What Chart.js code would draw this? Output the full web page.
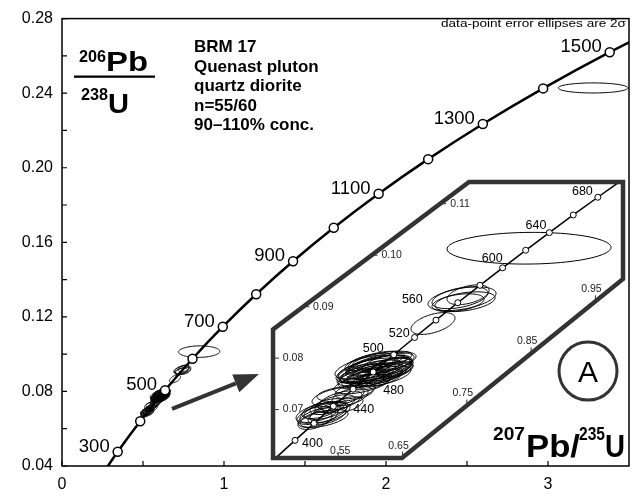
<!DOCTYPE html>
<html>
<head>
<meta charset="utf-8">
<script src="https://cdn.jsdelivr.net/npm/chart.js@4"></script>
<style>
  html, body { margin: 0; padding: 0; background: #fff; }
  #wrap { width: 634px; height: 497px; position: relative; }
</style>
</head>
<body>
<div id="wrap"><canvas id="c"></canvas></div>
<script>
// Concordia nodes, 100 Ma apart (age, 207Pb/235U, 206Pb/238U)
const concAge = [200, 300, 400, 500, 600, 700, 800, 900, 1000, 1100, 1200, 1300, 1400, 1500, 1600];
const concX = [0.2177, 0.3437, 0.4828, 0.6363, 0.8056, 0.9925, 1.1987, 1.4263, 1.6774, 1.9545, 2.2603, 2.5977, 2.9701, 3.3810, 3.8344];
const concY = [0.03151, 0.04764, 0.06402, 0.08065, 0.09754, 0.11470, 0.13213, 0.14983, 0.16780, 0.18606, 0.20460, 0.22344, 0.24256, 0.26199, 0.28172];
const mainAgeLabels = [300, 500, 700, 900, 1100, 1300, 1500];

// Enlarged concordia, 20 Ma apart
const insetAge = [380, 400, 420, 440, 460, 480, 500, 520, 540, 560, 580, 600, 620, 640, 660, 680, 700];
const insetX = [0.4539, 0.4828, 0.5123, 0.5424, 0.5731, 0.6044, 0.6363, 0.6688, 0.7020, 0.7359, 0.7704, 0.8056, 0.8415, 0.8783, 0.9155, 0.9537, 0.9925];
const insetY = [0.06072, 0.06402, 0.06732, 0.07064, 0.07397, 0.07730, 0.08065, 0.08401, 0.08738, 0.09076, 0.09414, 0.09754, 0.10095, 0.10438, 0.10781, 0.11125, 0.11470];
const insetAgeLabels = [400, 440, 480, 500, 520, 560, 600, 640, 680];

// Zircon analyses: ratios, 2 sigma half-widths and error correlation
const ellX  = [0.6026, 0.6119, 0.5963, 0.6197, 0.6072, 0.5917, 0.6274, 0.6150, 0.5994, 0.5839, 0.6228, 0.6337, 0.6088, 0.5932, 0.6166, 0.6057, 0.6383, 0.5808, 0.6259, 0.6010, 0.5870, 0.5606, 0.5528, 0.5683, 0.5450, 0.5621, 0.5761, 0.5248, 0.5186, 0.5310, 0.5139, 0.5372, 0.5217, 0.5279, 0.5092, 0.5341, 0.6974, 0.7425, 0.7519, 0.7472, 0.7363, 0.8467, 3.2780, 0.6103, 0.5979, 0.6212, 0.6041, 0.6305, 0.5886, 0.6134, 0.5497, 0.5186, 0.5326, 0.6181, 0.7394];
const ellSX = [0.0467, 0.0498, 0.0435, 0.0467, 0.0420, 0.0467, 0.0404, 0.0513, 0.0389, 0.0342, 0.0404, 0.0311, 0.0435, 0.0373, 0.0544, 0.0591, 0.0280, 0.0311, 0.0373, 0.0311, 0.0435, 0.0435, 0.0342, 0.0280, 0.0311, 0.0264, 0.0311, 0.0389, 0.0311, 0.0342, 0.0264, 0.0311, 0.0280, 0.0373, 0.0187, 0.0280, 0.0342, 0.0529, 0.0327, 0.0467, 0.0404, 0.1275, 0.2150, 0.0451, 0.0482, 0.0420, 0.0513, 0.0342, 0.0404, 0.0358, 0.0404, 0.0342, 0.0295, 0.0467, 0.0435];
const ellY  = [0.07750, 0.07827, 0.07712, 0.07788, 0.07654, 0.07827, 0.07904, 0.07712, 0.07904, 0.07712, 0.07654, 0.07846, 0.07942, 0.07596, 0.07885, 0.07788, 0.07788, 0.07596, 0.07750, 0.07558, 0.07500, 0.07308, 0.07173, 0.07250, 0.07115, 0.07096, 0.07365, 0.06923, 0.06846, 0.06981, 0.06788, 0.06942, 0.06981, 0.06827, 0.06885, 0.07058, 0.08673, 0.09154, 0.09231, 0.09096, 0.09077, 0.10135, 0.24280, 0.07865, 0.07788, 0.07731, 0.07692, 0.07808, 0.07673, 0.07615, 0.07250, 0.06942, 0.06885, 0.07962, 0.09173];
const ellSY = [0.00212, 0.00231, 0.00192, 0.00212, 0.00192, 0.00231, 0.00192, 0.00212, 0.00192, 0.00173, 0.00192, 0.00173, 0.00192, 0.00173, 0.00231, 0.00269, 0.00154, 0.00192, 0.00250, 0.00173, 0.00192, 0.00154, 0.00192, 0.00173, 0.00173, 0.00154, 0.00154, 0.00212, 0.00192, 0.00173, 0.00173, 0.00192, 0.00154, 0.00173, 0.00154, 0.00154, 0.00212, 0.00231, 0.00192, 0.00192, 0.00173, 0.00308, 0.00270, 0.00192, 0.00212, 0.00173, 0.00192, 0.00212, 0.00212, 0.00173, 0.00192, 0.00192, 0.00173, 0.00173, 0.00212];
const ellRho = [0.6, 0.6, 0.6, 0.6, 0.55, 0.6, 0.6, 0.6, 0.55, 0.5, 0.6, 0.5, 0.6, 0.55, 0.65, 0.65, 0.5, 0.5, 0.6, 0.5, 0.55, 0.4, 0.55, 0.5, 0.55, 0.5, 0.45, 0.6, 0.55, 0.55, 0.5, 0.55, 0.5, 0.55, 0.4, 0.5, 0.5, 0.45, 0.45, 0.4, 0.4, 0.05, 0.0, 0.6, 0.6, 0.55, 0.6, 0.55, 0.6, 0.55, 0.5, 0.55, 0.5, 0.6, 0.45];

// Axis ticks
const xMajor = [0, 1, 2, 3];
const xMinor = [0.5, 1.5, 2.5];
const yMajor = [0.04, 0.08, 0.12, 0.16, 0.20, 0.24, 0.28];
const yMinor = [0.06, 0.10, 0.14, 0.18, 0.22, 0.26];
const insetXTicks = [0.55, 0.65, 0.75, 0.85, 0.95];
const insetYTicks = [0.07, 0.08, 0.09, 0.10, 0.11];

// Outline of the enlarged window, in its own ratios
const frameX = [0.4486, 0.4486, 0.7534, 0.9929, 0.9929, 0.6492];
const frameY = [0.06058, 0.08558, 0.11423, 0.11423, 0.09538, 0.06058];

const FONT = '"Liberation Sans", Arial, Helvetica, sans-serif';
const GREY = '#333';

// label placement beside the enlarged concordia nodes: [dx, dy, align]
const insetLabelPos = {
  400: [7, 3, 'left'], 440: [20, 3, 'left'], 480: [10, 19, 'left'], 500: [-10, -6, 'right'],
  520: [-5, -4, 'right'], 560: [-35, -3, 'right'], 600: [0, -9, 'right'], 640: [-3, -7, 'right'], 680: [-5, -6, 'right']
};

function txt(ctx, s, x, y, size, opts = {}) {
  ctx.save();
  ctx.font = (opts.bold ? 'bold ' : '') + size + 'px ' + FONT;
  ctx.fillStyle = opts.color || '#000';
  ctx.textBaseline = opts.base || 'alphabetic';
  ctx.textAlign = opts.align || 'left';
  ctx.translate(x, y);
  if (opts.w) ctx.scale(opts.w / ctx.measureText(s).width, 1);
  ctx.fillText(s, 0, 0);
  ctx.restore();
}

function framePoints(chart) {
  const xs = chart.scales.ix, ys = chart.scales.iy;
  return frameX.map((v, i) => [xs.getPixelForValue(v), ys.getPixelForValue(frameY[i])]);
}

function framePath(ctx, pts) {
  ctx.beginPath();
  pts.forEach((p, i) => i ? ctx.lineTo(p[0], p[1]) : ctx.moveTo(p[0], p[1]));
  ctx.closePath();
}

function drawEllipses(ctx, xs, ys) {
  ctx.lineWidth = 1;
  ctx.strokeStyle = '#000';
  for (let k = 0; k < ellX.length; k++) {
    const r = ellRho[k], q = Math.sqrt(1 - r * r);
    ctx.beginPath();
    for (let i = 0; i <= 96; i++) {
      const t = i / 96 * Math.PI * 2, c = Math.cos(t), s = Math.sin(t);
      const px = xs.getPixelForValue(ellX[k] + ellSX[k] * c);
      const py = ys.getPixelForValue(ellY[k] + ellSY[k] * (r * c + q * s));
      i ? ctx.lineTo(px, py) : ctx.moveTo(px, py);
    }
    ctx.closePath();
    ctx.stroke();
  }
}

const concordiaPlot = {
  id: 'concordiaPlot',
  beforeDatasetsDraw(chart) {
    const ctx = chart.ctx, a = chart.chartArea;
    ctx.save();
    ctx.beginPath();
    ctx.rect(a.left, a.top, a.right - a.left, a.bottom - a.top);
    ctx.clip();
    drawEllipses(ctx, chart.scales.x, chart.scales.y);
    ctx.restore();

    ctx.save();
    framePath(ctx, framePoints(chart));
    ctx.fillStyle = '#fff';
    ctx.fill();
    ctx.clip();
    drawEllipses(ctx, chart.scales.ix, chart.scales.iy);
    ctx.restore();
  },
  beforeDatasetDraw(chart, args) {
    if (args.meta.xAxisID !== 'ix') return;
    chart.ctx.save();
    framePath(chart.ctx, framePoints(chart));
    chart.ctx.clip();
  },
  afterDatasetDraw(chart, args) {
    if (args.meta.xAxisID === 'ix') chart.ctx.restore();
  },
  afterDatasetsDraw(chart) {
    const ctx = chart.ctx, a = chart.chartArea;
    const x = chart.scales.x, y = chart.scales.y, ix = chart.scales.ix, iy = chart.scales.iy;
    const pts = framePoints(chart);

    // window outline
    ctx.save();
    framePath(ctx, pts);
    ctx.lineWidth = 4.5;
    ctx.lineJoin = 'miter';
    ctx.strokeStyle = GREY;
    ctx.stroke();
    ctx.restore();

    // window ticks, placed where each value meets the outline
    const edges = pts.map((p, i) => [p, pts[(i + 1) % pts.length]]);
    ctx.save();
    ctx.strokeStyle = GREY;
    ctx.lineWidth = 1;
    insetYTicks.forEach(v => {
      const py = iy.getPixelForValue(v);
      let xc = Infinity;
      edges.forEach(([p, q]) => {
        if (p[1] !== q[1] && (p[1] - py) * (q[1] - py) <= 0) {
          xc = Math.min(xc, p[0] + (py - p[1]) * (q[0] - p[0]) / (q[1] - p[1]));
        }
      });
      ctx.beginPath(); ctx.moveTo(xc, py); ctx.lineTo(xc + 6, py); ctx.stroke();
      txt(ctx, v.toFixed(2), xc + 20, py, 10.5, { align: 'center', base: 'middle', color: '#222' });
    });
    insetXTicks.forEach(v => {
      const px = ix.getPixelForValue(v);
      let yc = -Infinity, flat = false;
      edges.forEach(([p, q]) => {
        if (p[0] !== q[0] && (p[0] - px) * (q[0] - px) <= 0) {
          const yy = p[1] + (px - p[0]) * (q[1] - p[1]) / (q[0] - p[0]);
          if (yy > yc) { yc = yy; flat = p[1] === q[1]; }
        }
      });
      ctx.beginPath(); ctx.moveTo(px, yc); ctx.lineTo(px, yc - 6); ctx.stroke();
      if (flat) txt(ctx, v.toFixed(2), px + 2, yc - 7, 10.5, { align: 'center', base: 'middle', color: '#222' });
      else txt(ctx, v.toFixed(2), px - 4, yc - 12, 10.5, { align: 'center', base: 'middle', color: '#222' });
    });
    ctx.restore();

    // ages on the enlarged concordia
    insetAgeLabels.forEach(age => {
      const i = insetAge.indexOf(age), o = insetLabelPos[age];
      const px = ix.getPixelForValue(insetX[i]), py = iy.getPixelForValue(insetY[i]);
      txt(ctx, String(age), px + o[0], py + o[1], 12.5, { align: o[2], base: 'middle' });
    });

    // ages on the main concordia
    mainAgeLabels.forEach(age => {
      const i = concAge.indexOf(age);
      const px = x.getPixelForValue(concX[i]), py = y.getPixelForValue(concY[i]);
      txt(ctx, String(age), px - 8, py - 5, 18.5, { align: 'right', base: 'middle' });
    });

    // arrow pointing into the window
    const tx = x.getPixelForValue(0.679), ty = y.getPixelForValue(0.0707);
    const hx = x.getPixelForValue(1.216), hy = y.getPixelForValue(0.0893);
    const ang = Math.atan2(hy - ty, hx - tx), L = 25, W = 9.5;
    const bx = hx - L * Math.cos(ang), by = hy - L * Math.sin(ang);
    ctx.save();
    ctx.strokeStyle = GREY; ctx.fillStyle = GREY; ctx.lineWidth = 4;
    ctx.beginPath(); ctx.moveTo(tx, ty); ctx.lineTo(bx, by); ctx.stroke();
    ctx.beginPath();
    ctx.moveTo(hx, hy);
    ctx.lineTo(bx + W * Math.sin(ang), by - W * Math.cos(ang));
    ctx.lineTo(bx - W * Math.sin(ang), by + W * Math.cos(ang));
    ctx.closePath(); ctx.fill();
    ctx.restore();

    // panel letter
    const cx = x.getPixelForValue(3.247), cy = y.getPixelForValue(0.0909);
    ctx.save();
    ctx.strokeStyle = GREY; ctx.lineWidth = 3;
    ctx.beginPath(); ctx.arc(cx, cy, 29, 0, Math.PI * 2); ctx.stroke();
    ctx.restore();
    txt(ctx, 'A', cx, cy + 11, 30, { align: 'center' });

    // frame and inward ticks
    ctx.save();
    ctx.strokeStyle = '#000';
    ctx.lineWidth = 1.5;
    ctx.strokeRect(a.left, a.top, a.right - a.left, a.bottom - a.top);
    ctx.lineWidth = 1.2;
    ctx.beginPath();
    yMajor.concat(yMinor).forEach(v => {
      const py = y.getPixelForValue(v);
      ctx.moveTo(a.left, py); ctx.lineTo(a.left + 5, py);
    });
    xMajor.concat(xMinor).forEach(v => {
      const px = x.getPixelForValue(v);
      ctx.moveTo(px, a.bottom); ctx.lineTo(px, a.bottom - 5);
    });
    ctx.stroke();
    ctx.restore();

    // axis titles
    txt(ctx, '206', 79, 62, 16, { bold: true, w: 27 });
    txt(ctx, 'Pb', 106, 71, 27, { bold: true, w: 42 });
    ctx.save();
    ctx.fillStyle = '#000';
    ctx.fillRect(74, 75.5, 81, 2.3);
    ctx.restore();
    txt(ctx, '238', 81, 100, 16, { bold: true, w: 27 });
    txt(ctx, 'U', 108, 113, 27, { bold: true, w: 21 });

    txt(ctx, '207', 493, 440, 19, { bold: true, w: 32 });
    txt(ctx, 'Pb/', 526, 457, 32, { bold: true, w: 54 });
    txt(ctx, '235', 579, 440, 19, { bold: true, w: 26 });
    txt(ctx, 'U', 605, 457, 32, { bold: true, w: 20 });

    // sample description
    ['BRM 17', 'Quenast pluton', 'quartz diorite', 'n=55/60', '90\u2013110% conc.'].forEach((s, i) => {
      txt(ctx, s, 194, 52 + i * 19.5, 17, { bold: true });
    });
    txt(ctx, 'data-point error ellipses are 2\u03c3', 626, 27, 11, { align: 'right', w: 185 });
  }
};

new Chart(document.getElementById('c'), {
  type: 'scatter',
  data: {
    datasets: [
      {
        data: concAge.map((a, i) => ({ x: concX[i], y: concY[i] })),
        xAxisID: 'x', yAxisID: 'y',
        showLine: true,
        cubicInterpolationMode: 'monotone',
        borderColor: '#000',
        borderWidth: 2.5,
        pointRadius: c => (concAge[c.dataIndex] >= 300 && concAge[c.dataIndex] <= 1500) ? 4.5 : 0,
        pointBackgroundColor: '#fff',
        pointBorderColor: '#000',
        pointBorderWidth: 1.5
      },
      {
        data: insetAge.map((a, i) => ({ x: insetX[i], y: insetY[i] })),
        xAxisID: 'ix', yAxisID: 'iy',
        showLine: true,
        cubicInterpolationMode: 'monotone',
        borderColor: '#000',
        borderWidth: 1.5,
        pointRadius: c => (insetAge[c.dataIndex] >= 400 && insetAge[c.dataIndex] <= 680) ? 3 : 0,
        pointBackgroundColor: '#fff',
        pointBorderColor: '#000',
        pointBorderWidth: 1
      }
    ]
  },
  options: {
    responsive: true,
    maintainAspectRatio: false,
    animation: false,
    events: [],
    layout: { padding: { left: 0, top: 14, right: 5, bottom: 0 } },
    plugins: { legend: { display: false }, tooltip: { enabled: false } },
    scales: {
      x: {
        type: 'linear', position: 'bottom', min: 0, max: 3.5,
        grid: { display: false, drawTicks: false },
        border: { display: false },
        afterBuildTicks: s => { s.ticks = xMajor.map(v => ({ value: v })); },
        afterFit: s => { s.height = 31; },
        ticks: { padding: 9, color: '#000', font: { family: FONT, size: 16 }, callback: v => String(v) }
      },
      y: {
        type: 'linear', position: 'left', min: 0.04, max: 0.28,
        grid: { display: false, drawTicks: false },
        border: { display: false },
        afterBuildTicks: s => { s.ticks = yMajor.map(v => ({ value: v })); },
        afterFit: s => { s.width = 62; },
        ticks: { padding: 9, color: '#000', font: { family: FONT, size: 16 }, callback: v => v.toFixed(2) }
      },
      ix: {
        type: 'linear', position: 'top', display: false, min: 0.1204, max: 1.0022,
        ticks: { display: false }, afterFit: s => { s.height = 0; }
      },
      iy: {
        type: 'linear', position: 'right', display: false, min: 0.05904, max: 0.14596,
        ticks: { display: false }, afterFit: s => { s.width = 0; }
      }
    }
  },
  plugins: [concordiaPlot]
});
</script>
</body>
</html>
